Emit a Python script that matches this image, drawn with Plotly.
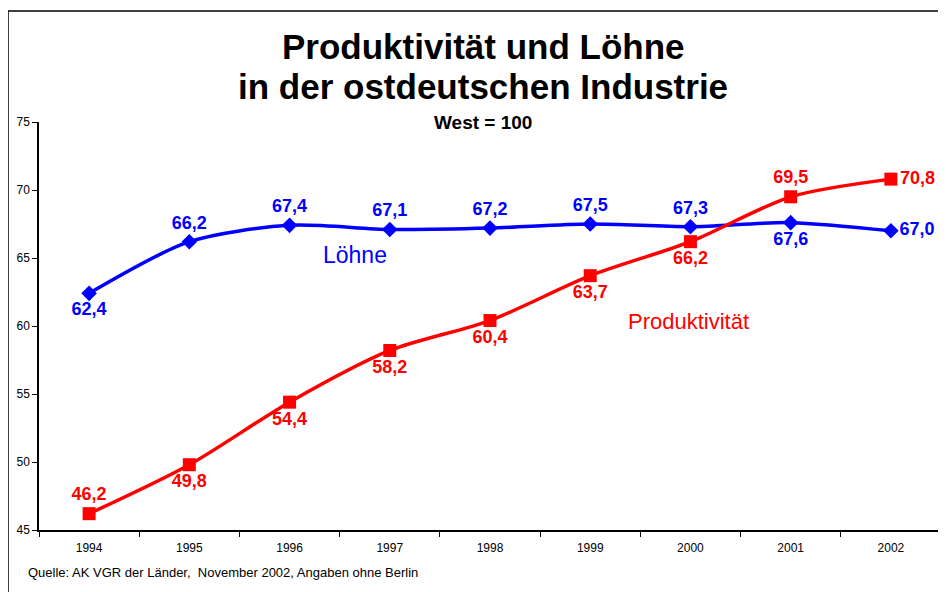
import plotly.graph_objects as go

years = ["1994", "1995", "1996", "1997", "1998", "1999", "2000", "2001", "2002"]
loehne = [62.4, 66.2, 67.4, 67.1, 67.2, 67.5, 67.3, 67.6, 67.0]
produktivitaet = [46.2, 49.8, 54.4, 58.2, 60.4, 63.7, 66.2, 69.5, 70.8]

loehne_pos = ["bottom center", "top center", "top center", "top center", "top center",
              "top center", "top center", "bottom center", "middle right"]
prod_pos = ["top center", "bottom center", "bottom center", "bottom center", "bottom center",
            "bottom center", "bottom center", "top center", "middle right"]

blue = "#0000FF"
red = "#FF0000"

# Seite hat 8px Rand im Browser, daher Figur etwas kleiner
W, H = 938, 584
L, R, T, B = 31, 5, 114, 62
PW, PH = W - L - R, H - T - B


def px(sx):
    return (sx - 8 - L) / PW


def py(sy):
    return (H - B - (sy - 8)) / PH


def fmt(v):
    # deutsches Dezimalkomma
    return f"{v:.1f}".replace(".", ",")


fig = go.Figure()
fig.add_trace(go.Scatter(
    x=years, y=loehne, mode="lines+markers+text",
    line=dict(color=blue, width=3.5, shape="spline", smoothing=0.8),
    marker=dict(symbol="diamond", size=12, color=blue),
    text=[fmt(v) for v in loehne], textposition=loehne_pos,
    textfont=dict(family="Arial, Liberation Sans", size=18, color=blue, weight="bold"),
    cliponaxis=False, showlegend=False,
))
fig.add_trace(go.Scatter(
    x=years, y=produktivitaet, mode="lines+markers+text",
    line=dict(color=red, width=3.5, shape="spline", smoothing=0.8),
    marker=dict(symbol="square", size=13, color=red),
    text=[fmt(v) for v in produktivitaet], textposition=prod_pos,
    textfont=dict(family="Arial, Liberation Sans", size=18, color=red, weight="bold"),
    cliponaxis=False, showlegend=False,
))

fig.update_layout(
    width=W, height=H,
    margin=dict(l=L, r=R, t=T, b=B, autoexpand=False),
    plot_bgcolor="white", paper_bgcolor="white",
    font=dict(family="Arial, Liberation Sans", color="black"),
    xaxis=dict(
        type="category", showgrid=False, showline=True, linecolor="black", linewidth=1.5,
        ticks="outside", tickson="boundaries", ticklen=5, tickcolor="black",
        tickfont=dict(size=12), range=[-0.5, 8.5], ticklabelstandoff=6,
    ),
    yaxis=dict(
        range=[45, 75], dtick=5, showgrid=False, showline=True, linecolor="black", linewidth=1.5,
        ticks="outside", ticklen=5, tickcolor="black", tickfont=dict(size=12), zeroline=False,
    ),
    shapes=[dict(
        type="rect", xref="paper", yref="paper",
        x0=px(8), x1=1.05, y0=-0.2, y1=py(11),
        line=dict(color="black", width=1.5), fillcolor="rgba(0,0,0,0)", layer="below",
    )],
    annotations=[
        dict(text="<b>Produktivität und Löhne</b>", x=px(483), y=py(46), xref="paper", yref="paper",
             yanchor="middle", showarrow=False, font=dict(size=35)),
        dict(text="<b>in der ostdeutschen Industrie</b>", x=px(483), y=py(86), xref="paper", yref="paper",
             yanchor="middle", showarrow=False, font=dict(size=35)),
        dict(text="<b>West = 100</b>", x=px(483), y=py(122), xref="paper", yref="paper",
             yanchor="middle", showarrow=False, font=dict(size=19)),
        dict(text="Löhne", x=2.65, y=65.2, xref="x", yref="y", showarrow=False,
             font=dict(size=23, color=blue)),
        dict(text="Produktivität", x=5.98, y=60.3, xref="x", yref="y", showarrow=False,
             font=dict(size=22, color=red)),
        dict(text="Quelle: AK VGR der Länder,  November 2002, Angaben ohne Berlin",
             x=px(26), y=py(572), xref="paper", yref="paper", xanchor="left", yanchor="middle",
             showarrow=False, font=dict(size=13)),
    ],
)

fig.write_html("out.html")
